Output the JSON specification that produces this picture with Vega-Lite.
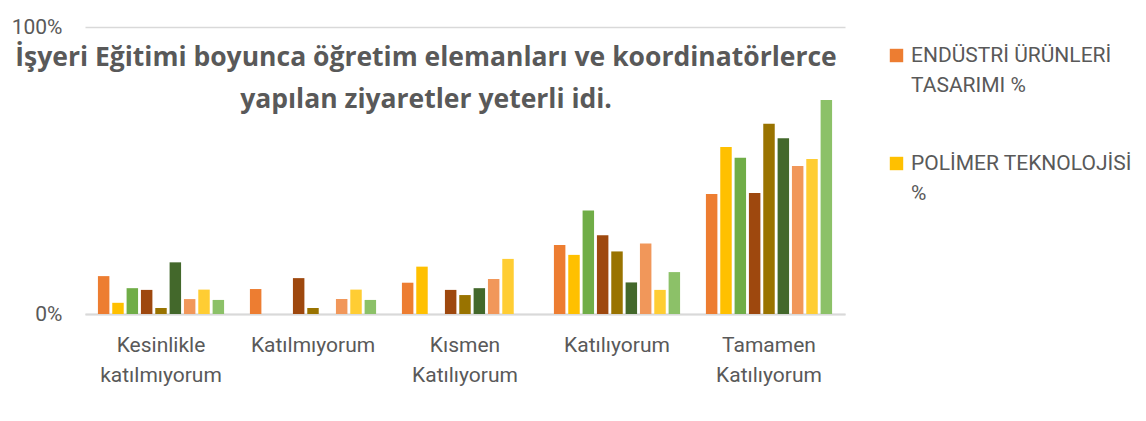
{
  "$schema": "https://vega.github.io/schema/vega-lite/v6.json",
  "width": 760,
  "height": 287,
  "autosize": {"type": "none"},
  "padding": {"left": 85, "top": 27, "right": 301, "bottom": 107},
  "background": "white",
  "title": {
    "text": ["İşyeri Eğitimi boyunca öğretim elemanları ve koordinatörlerce", "yapılan ziyaretler yeterli idi."],
    "font": "Open Sans",
    "fontSize": 26.5,
    "fontWeight": "bold",
    "color": "#595959",
    "lineHeight": 42,
    "anchor": "middle",
    "dx": -39,
    "offset": -97,
    "baseline": "top"
  },
  "data": {
    "values": [
      {"kategori": "Kesinlikle katılmıyorum", "bolum": "ENDÜSTRİ ÜRÜNLERİ TASARIMI %", "yuzde": 0.132},
      {"kategori": "Kesinlikle katılmıyorum", "bolum": "POLİMER TEKNOLOJİSİ %", "yuzde": 0.039},
      {"kategori": "Kesinlikle katılmıyorum", "bolum": "BÖLÜM 3 %", "yuzde": 0.09},
      {"kategori": "Kesinlikle katılmıyorum", "bolum": "BÖLÜM 4 %", "yuzde": 0.084},
      {"kategori": "Kesinlikle katılmıyorum", "bolum": "BÖLÜM 5 %", "yuzde": 0.021},
      {"kategori": "Kesinlikle katılmıyorum", "bolum": "BÖLÜM 6 %", "yuzde": 0.18},
      {"kategori": "Kesinlikle katılmıyorum", "bolum": "BÖLÜM 7 %", "yuzde": 0.052},
      {"kategori": "Kesinlikle katılmıyorum", "bolum": "BÖLÜM 8 %", "yuzde": 0.085},
      {"kategori": "Kesinlikle katılmıyorum", "bolum": "BÖLÜM 9 %", "yuzde": 0.049},
      {"kategori": "Katılmıyorum", "bolum": "ENDÜSTRİ ÜRÜNLERİ TASARIMI %", "yuzde": 0.087},
      {"kategori": "Katılmıyorum", "bolum": "POLİMER TEKNOLOJİSİ %", "yuzde": 0},
      {"kategori": "Katılmıyorum", "bolum": "BÖLÜM 3 %", "yuzde": 0},
      {"kategori": "Katılmıyorum", "bolum": "BÖLÜM 4 %", "yuzde": 0.125},
      {"kategori": "Katılmıyorum", "bolum": "BÖLÜM 5 %", "yuzde": 0.021},
      {"kategori": "Katılmıyorum", "bolum": "BÖLÜM 6 %", "yuzde": 0},
      {"kategori": "Katılmıyorum", "bolum": "BÖLÜM 7 %", "yuzde": 0.052},
      {"kategori": "Katılmıyorum", "bolum": "BÖLÜM 8 %", "yuzde": 0.085},
      {"kategori": "Katılmıyorum", "bolum": "BÖLÜM 9 %", "yuzde": 0.049},
      {"kategori": "Kısmen Katılıyorum", "bolum": "ENDÜSTRİ ÜRÜNLERİ TASARIMI %", "yuzde": 0.109},
      {"kategori": "Kısmen Katılıyorum", "bolum": "POLİMER TEKNOLOJİSİ %", "yuzde": 0.165},
      {"kategori": "Kısmen Katılıyorum", "bolum": "BÖLÜM 3 %", "yuzde": 0},
      {"kategori": "Kısmen Katılıyorum", "bolum": "BÖLÜM 4 %", "yuzde": 0.084},
      {"kategori": "Kısmen Katılıyorum", "bolum": "BÖLÜM 5 %", "yuzde": 0.066},
      {"kategori": "Kısmen Katılıyorum", "bolum": "BÖLÜM 6 %", "yuzde": 0.09},
      {"kategori": "Kısmen Katılıyorum", "bolum": "BÖLÜM 7 %", "yuzde": 0.122},
      {"kategori": "Kısmen Katılıyorum", "bolum": "BÖLÜM 8 %", "yuzde": 0.192},
      {"kategori": "Kısmen Katılıyorum", "bolum": "BÖLÜM 9 %", "yuzde": 0},
      {"kategori": "Katılıyorum", "bolum": "ENDÜSTRİ ÜRÜNLERİ TASARIMI %", "yuzde": 0.24},
      {"kategori": "Katılıyorum", "bolum": "POLİMER TEKNOLOJİSİ %", "yuzde": 0.206},
      {"kategori": "Katılıyorum", "bolum": "BÖLÜM 3 %", "yuzde": 0.361},
      {"kategori": "Katılıyorum", "bolum": "BÖLÜM 4 %", "yuzde": 0.274},
      {"kategori": "Katılıyorum", "bolum": "BÖLÜM 5 %", "yuzde": 0.218},
      {"kategori": "Katılıyorum", "bolum": "BÖLÜM 6 %", "yuzde": 0.11},
      {"kategori": "Katılıyorum", "bolum": "BÖLÜM 7 %", "yuzde": 0.246},
      {"kategori": "Katılıyorum", "bolum": "BÖLÜM 8 %", "yuzde": 0.084},
      {"kategori": "Katılıyorum", "bolum": "BÖLÜM 9 %", "yuzde": 0.146},
      {"kategori": "Tamamen Katılıyorum", "bolum": "ENDÜSTRİ ÜRÜNLERİ TASARIMI %", "yuzde": 0.418},
      {"kategori": "Tamamen Katılıyorum", "bolum": "POLİMER TEKNOLOJİSİ %", "yuzde": 0.582},
      {"kategori": "Tamamen Katılıyorum", "bolum": "BÖLÜM 3 %", "yuzde": 0.544},
      {"kategori": "Tamamen Katılıyorum", "bolum": "BÖLÜM 4 %", "yuzde": 0.422},
      {"kategori": "Tamamen Katılıyorum", "bolum": "BÖLÜM 5 %", "yuzde": 0.663},
      {"kategori": "Tamamen Katılıyorum", "bolum": "BÖLÜM 6 %", "yuzde": 0.612},
      {"kategori": "Tamamen Katılıyorum", "bolum": "BÖLÜM 7 %", "yuzde": 0.516},
      {"kategori": "Tamamen Katılıyorum", "bolum": "BÖLÜM 8 %", "yuzde": 0.54},
      {"kategori": "Tamamen Katılıyorum", "bolum": "BÖLÜM 9 %", "yuzde": 0.746}
    ]
  },
  "mark": {"type": "bar"},
  "encoding": {
    "x": {
      "field": "kategori",
      "type": "nominal",
      "sort": null,
      "scale": {"paddingInner": 0.17, "paddingOuter": 0.085},
      "axis": {
        "title": null,
        "labelAngle": 0,
        "labelExpr": "split(datum.label, ' ')",
        "labelFont": "Roboto",
        "labelFontSize": 21,
        "labelColor": "#595959",
        "labelLineHeight": 30,
        "labelPadding": 20,
        "ticks": false,
        "domainColor": "#D9D9D9",
        "domainWidth": 2,
        "grid": false
      }
    },
    "xOffset": {
      "field": "bolum",
      "type": "nominal",
      "sort": null,
      "scale": {"paddingInner": 0.2, "paddingOuter": 0}
    },
    "y": {
      "field": "yuzde",
      "type": "quantitative",
      "scale": {"domain": [0, 1], "nice": false},
      "axis": {
        "title": null,
        "values": [0, 1],
        "format": ".0%",
        "labelFont": "Roboto",
        "labelFontSize": 21,
        "labelColor": "#595959",
        "labelPadding": 23,
        "ticks": false,
        "domain": false,
        "gridColor": "#D9D9D9",
        "gridWidth": 1.5
      }
    },
    "color": {
      "field": "bolum",
      "type": "nominal",
      "sort": null,
      "scale": {
        "domain": ["ENDÜSTRİ ÜRÜNLERİ TASARIMI %", "POLİMER TEKNOLOJİSİ %", "BÖLÜM 3 %", "BÖLÜM 4 %", "BÖLÜM 5 %", "BÖLÜM 6 %", "BÖLÜM 7 %", "BÖLÜM 8 %", "BÖLÜM 9 %"],
        "range": ["#ED7D31", "#FFC000", "#70AD47", "#9E480E", "#997300", "#43682B", "#F1975A", "#FFCD33", "#8CC168"]
      },
      "legend": {
        "title": null,
        "values": ["ENDÜSTRİ ÜRÜNLERİ TASARIMI %", "POLİMER TEKNOLOJİSİ %"],
        "orient": "none",
        "legendX": 801,
        "legendY": 18,
        "symbolType": "square",
        "symbolSize": 180,
        "symbolStrokeWidth": 0,
        "labelExpr": "datum.label == 'ENDÜSTRİ ÜRÜNLERİ TASARIMI %' ? ['ENDÜSTRİ ÜRÜNLERİ', 'TASARIMI %'] : ['POLİMER TEKNOLOJİSİ', '%']",
        "labelFont": "Roboto",
        "labelFontSize": 21,
        "labelColor": "#595959",
        "labelLimit": 300,
        "labelOffset": 4,
        "labelBaseline": "middle",
        "rowPadding": 56
      }
    }
  },
  "config": {
    "view": {"stroke": null},
    "style": {"guide-label": {"lineHeight": 30}}
  }
}
